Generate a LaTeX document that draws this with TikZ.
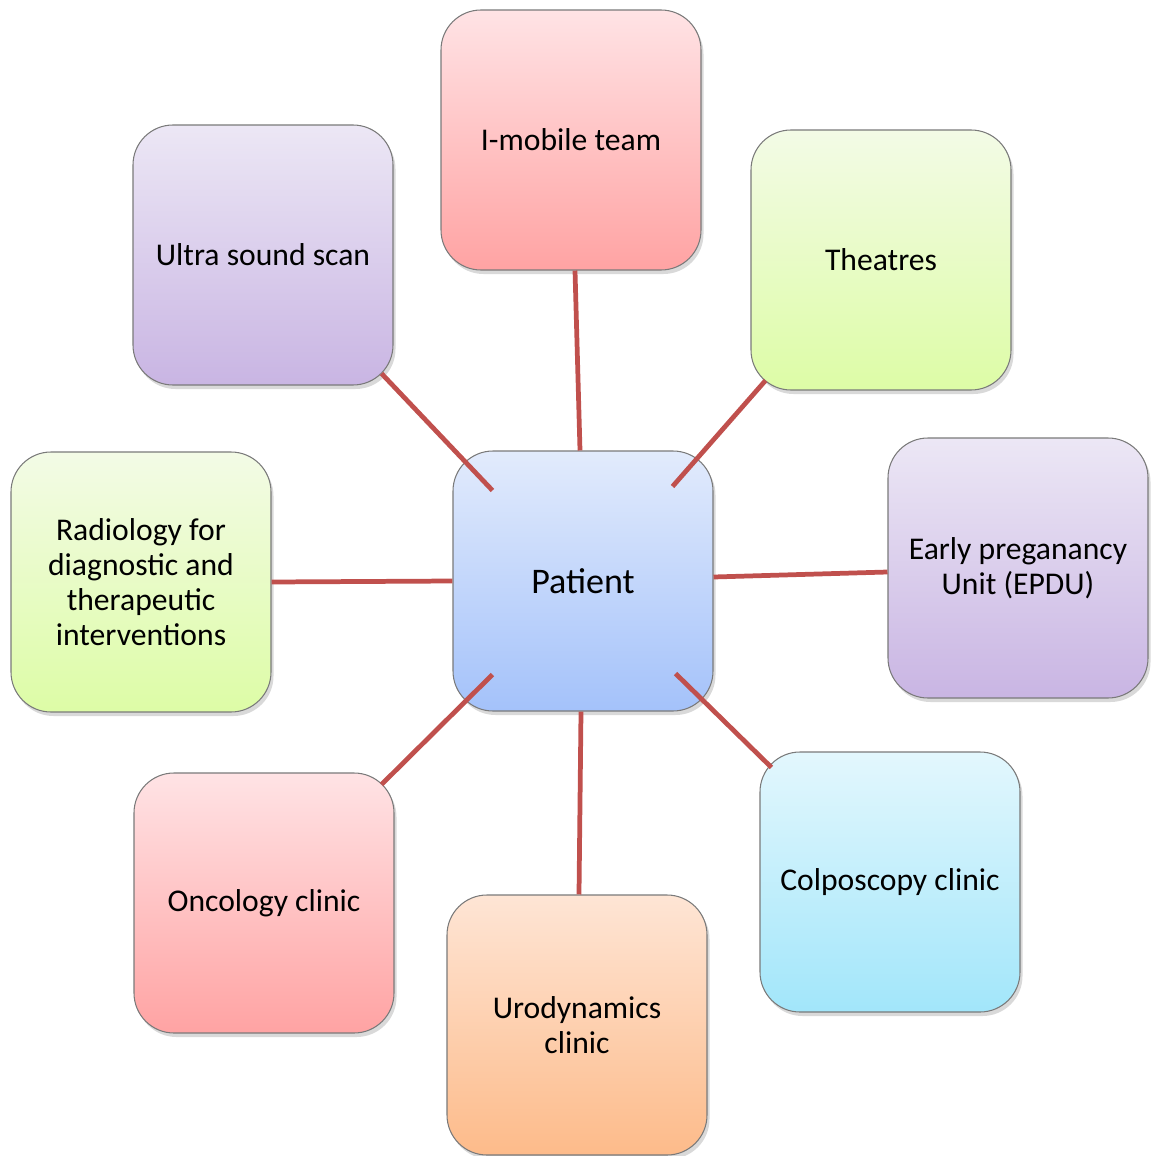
\documentclass[tikz,border=0pt]{standalone}
\usepackage{fontspec}
\setmainfont{Carlito}
\usepackage{tikz}
\usetikzlibrary{shadows,calc}

\definecolor{linkred}{HTML}{C0504D}
\definecolor{boxline}{HTML}{7A7A7A}

\begin{document}
\begin{tikzpicture}
\tikzstyle{unit}=[
  rectangle,
  rounded corners=0.8cm,
  draw=boxline,
  line width=0.6pt,
  minimum width=5.2cm,
  minimum height=5.2cm,
  inner sep=0pt,
  align=center,
  font=\fontsize{18}{20}\selectfont,
  drop shadow={opacity=0.3,shadow xshift=0.05cm,shadow yshift=-0.08cm} ]
\tikzstyle{pinkbox}=[unit, top color={rgb,255:red,255;green,227;blue,229}, bottom color={rgb,255:red,255;green,163;blue,163}]
\tikzstyle{purplebox}=[unit, top color={rgb,255:red,236;green,231;blue,245}, bottom color={rgb,255:red,201;green,181;blue,227}]
\tikzstyle{greenbox}=[unit, top color={rgb,255:red,243;green,251;blue,230}, bottom color={rgb,255:red,221;green,252;blue,166}]
\tikzstyle{bluebox}=[unit, top color={rgb,255:red,226;green,235;blue,252}, bottom color={rgb,255:red,164;green,194;blue,250}]
\tikzstyle{orangebox}=[unit, top color={rgb,255:red,254;green,229;blue,213}, bottom color={rgb,255:red,253;green,187;blue,138}]
\tikzstyle{cyanbox}=[unit, top color={rgb,255:red,227;green,247;blue,253}, bottom color={rgb,255:red,162;green,230;blue,250}]
\tikzstyle{link}=[draw=linkred, line width=2.7pt]

\useasboundingbox (0,0) rectangle (23.02,-23.12);

% outer units
\node[pinkbox] (imobile) at (11.42,-2.80) {I-mobile team};
\node[purplebox] (ultra) at (5.26,-5.10) {Ultra sound scan};
\node[greenbox] (theatres) at (17.62,-5.20) {Theatres};
\node[greenbox] (radiology) at (2.82,-11.64) {Radiology for\\diagnostic and\\therapeutic\\interventions};
\node[purplebox] (epdu) at (20.36,-11.36) {Early preganancy\\Unit (EPDU)};
\node[pinkbox] (oncology) at (5.28,-18.06) {Oncology clinic};
\node[orangebox] (urodynamics) at (11.54,-20.50) {Urodynamics\\clinic};
\node[cyanbox] (colposcopy) at (17.80,-17.64) {Colposcopy clinic};

% centre
\node[bluebox, font=\fontsize{20.5}{22}\selectfont] (patient) at (11.66,-11.62) {Patient};

% links
\draw[link] ($(patient.north)+(-0.06,0)$) -- ($(imobile.south)+(0.08,0)$);
\draw[link] ($(ultra.south east)+(-0.24,0.24)$) -- ($(patient.north west)+(0.8,-0.8)$);
\draw[link] ($(theatres.south west)+(0.3,0.2)$) -- ($(patient.north east)+(-0.82,-0.72)$);
\draw[link] (radiology.east) -- (patient.west);
\draw[link] ($(epdu.west)+(0,-0.08)$) -- ($(patient.east)+(0,0.08)$);
\draw[link] ($(oncology.north east)+(-0.26,-0.24)$) -- ($(patient.south west)+(0.8,0.74)$);
\draw[link] ($(urodynamics.north)+(0.04,0)$) -- ($(patient.south)+(-0.04,0)$);
\draw[link] ($(colposcopy.north west)+(0.24,-0.32)$) -- ($(patient.south east)+(-0.76,0.76)$);
\end{tikzpicture}
\end{document}
